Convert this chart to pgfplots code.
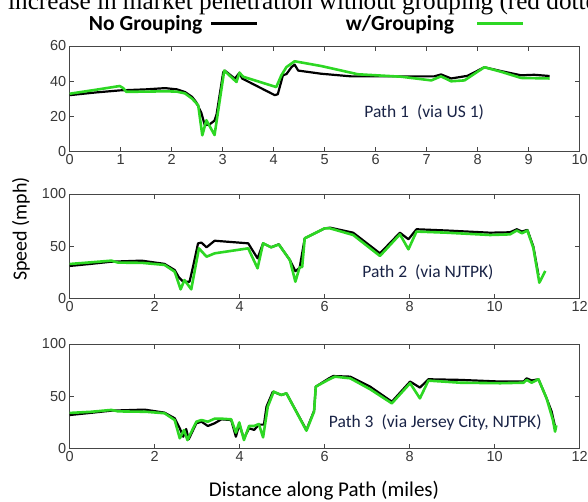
\documentclass[border=0pt]{standalone}
\usepackage{fontspec}
\setmainfont{Carlito}
\newfontfamily\tickfont{Liberation Sans}
\newfontfamily\seriffont{Liberation Serif}
\usepackage{pgfplots}
\pgfplotsset{compat=1.18}
\definecolor{grn}{RGB}{45,215,35}
\definecolor{framec}{RGB}{70,70,70}
\definecolor{tickc}{RGB}{55,55,55}
\definecolor{pathc}{RGB}{25,35,70}
\pgfplotsset{
  panel/.style={
    scale only axis, anchor=south west, width=510pt,
    axis line style={framec, line width=0.9pt},
    tick style={framec, line width=0.8pt},
    tick align=inside, major tick length=4.5pt,
    xtick pos=both, ytick pos=both,
    tick label style={font=\tickfont\fontsize{14.5}{14.5}\selectfont, text=tickc},
    /pgf/number format/assume math mode=true,
    minor tick num=0, scaled ticks=false,
  },
  blk/.style={black, line width=2.2pt, no markers, line join=round},
  gr/.style={grn, line width=2.6pt, no markers, line join=round},
}
\begin{document}
\begin{tikzpicture}[x=1pt,y=1pt]
\path[use as bounding box, clip] (0,0) rectangle (588,501);
\node[anchor=base west, inner sep=0pt, font=\seriffont\fontsize{25.2}{25.2}\selectfont] at (8,491.6) {increase in market penetration without grouping (red dotted lines)};

\begin{axis}[panel, at={(69.7pt,349.7pt)}, height=105.3pt,
  xmin=0, xmax=10, ymin=0, ymax=60,
  xtick={0,...,10}, ytick={0,20,40,60},
  legend columns=2, legend plot pos=right,
  legend style={at={(0.0378,1.215)}, anchor=west, draw=none, fill=none,
    inner sep=0pt, outer sep=0pt, column sep=0pt,
    nodes={inner sep=0pt, font=\bfseries\fontsize{21.5}{21.5}\selectfont}},
  legend image code/.code={\draw[#1, line width=3pt] (0pt,0pt) -- (46pt,0pt);},
]
\addplot[blk] coordinates {(0,32) (0.5,33.5) (0.98,34.7) (1.5,35.3) (1.87,36) (2.1,35.3) (2.26,33.8) (2.4,31) (2.48,28) (2.58,22) (2.65,14.8) (2.75,15.5) (2.84,17.5) (2.88,21) (3.01,45) (3.04,46) (3.24,41.4) (3.33,44.8) (3.38,41.5) (4.02,32) (4.08,32.5) (4.15,40) (4.18,43.3) (4.25,44) (4.35,48) (4.41,49.4) (4.48,46) (4.93,44.2) (5.52,42.7) (7.15,42.7) (7.28,43.8) (7.48,41.5) (7.8,43) (8.13,47.9) (8.46,45.7) (8.85,43.3) (9.11,43.6) (9.41,42.9)};
\addlegendentry{\makebox[121pt][l]{No Grouping}}
\addplot[gr] coordinates {(0,32.8) (0.5,35) (0.98,37.2) (1.05,36) (1.11,33.9) (1.5,34) (1.87,34.2) (2.1,34) (2.26,33) (2.4,30) (2.52,26.2) (2.6,9.1) (2.68,17.7) (2.84,9.3) (3.03,46) (3.27,39.5) (3.33,44.8) (3.4,42.5) (4.05,36.6) (4.15,43.3) (4.25,48) (4.41,51.3) (4.93,48.6) (5.65,43.9) (6.5,42.5) (7.09,40.4) (7.28,42.7) (7.48,39.9) (7.74,40.4) (8.13,47.9) (8.46,45.3) (8.85,41.8) (9.41,41.5)};
\addlegendentry{\makebox[217pt][r]{\makebox[130pt][l]{w/Grouping}}}
\node[anchor=base, inner sep=0pt, font=\fontsize{17.5}{17.5}\selectfont, text=pathc] at (axis cs:6.95,19) {Path 1~ (via US 1)};
\end{axis}

\begin{axis}[panel, at={(69.7pt,202.7pt)}, height=104.3pt,
  xmin=0, xmax=12, ymin=0, ymax=100,
  xtick={0,2,...,12}, ytick={0,50,100}]
\addplot[blk] coordinates {(0,31) (0.5,33) (0.98,35.1) (1.69,36.1) (2.23,33) (2.47,27.1) (2.57,20) (2.67,15.9) (2.82,15.9) (2.9,30) (3.02,52.7) (3.1,53.4) (3.22,48.9) (3.41,55.2) (4.2,52.7) (4.42,38.3) (4.55,52.7) (4.74,48.9) (4.92,51.8) (5.18,36.7) (5.31,26) (5.41,29.2) (5.53,57.5) (6.0,67.1) (6.13,67.7) (6.67,62.9) (7.3,43.1) (7.77,62.9) (7.97,56.6) (8.16,66.2) (8.87,65) (9.89,62.9) (10.36,63.3) (10.52,66.2) (10.64,64) (10.77,65.6) (10.91,49.5) (11.03,22.3)};
\addplot[gr] coordinates {(0,32.9) (0.5,34.5) (0.98,36.1) (1.14,34.2) (1.7,34) (2.23,32) (2.47,25.5) (2.61,8.6) (2.7,17.5) (2.86,8.6) (3.04,47.9) (3.22,39.9) (3.41,43.1) (4.2,47.9) (4.42,28.8) (4.55,52.7) (4.74,48.9) (4.92,51.6) (5.18,36.7) (5.31,15.9) (5.41,29.8) (5.47,30) (5.53,57.5) (6.0,67.1) (6.13,67) (6.67,60.7) (7.3,40.6) (7.77,61.3) (7.97,47) (8.16,64) (8.87,62.9) (9.89,60.7) (10.36,61.3) (10.52,65) (10.64,62.4) (10.77,65) (10.91,48) (11.05,15) (11.19,26.2)};
\node[anchor=base, inner sep=0pt, font=\fontsize{17.5}{17.5}\selectfont, text=pathc] at (axis cs:8.43,20.4) {Path 2~ (via NJTPK)};
\end{axis}

\begin{axis}[panel, at={(69.7pt,52.7pt)}, height=104.3pt,
  xmin=0, xmax=12, ymin=0, ymax=100,
  xtick={0,2,...,12}, ytick={0,50,100}]
\addplot[blk] coordinates {(0,31.9) (0.5,34) (0.98,36.1) (1.76,37.1) (2.23,34.2) (2.47,28.8) (2.59,19.2) (2.67,11.1) (2.74,18.5) (2.8,8.6) (2.98,24) (3.1,25.5) (3.25,21.4) (3.41,24) (3.57,27.8) (3.8,27.1) (3.91,11.1) (3.99,22.7) (4.1,9.6) (4.22,19.2) (4.34,17.6) (4.45,22.7) (4.57,22.7) (4.63,39.9) (4.78,54.3) (4.98,51.1) (5.1,52.7) (5.57,17.5) (5.75,36) (5.79,59.1) (6.1,67.1) (6.2,69.3) (6.6,68.7) (7.07,59.1) (7.58,44.7) (8.01,64) (8.24,58.2) (8.44,66.2) (9.18,65.6) (10.13,64) (10.68,64) (10.75,67.1) (10.87,65) (11.03,66.2) (11.22,48) (11.34,35.2) (11.42,20.8)};
\addplot[gr] coordinates {(0,33.9) (0.5,35) (0.98,36.8) (1.14,35.4) (1.8,35) (2.23,33.6) (2.47,27.1) (2.59,9.6) (2.69,17.5) (2.77,7.9) (2.98,25.5) (3.1,27.1) (3.25,25.5) (3.41,28.4) (3.57,28.4) (3.8,27.8) (3.91,15) (3.99,24.8) (4.1,7.9) (4.22,21.4) (4.34,21.4) (4.45,23.3) (4.55,10.5) (4.66,39.9) (4.8,54.3) (4.98,51.1) (5.1,52.7) (5.57,16.9) (5.75,35.2) (5.79,59.1) (6.1,66) (6.24,68.7) (6.6,67.1) (7.07,56.6) (7.58,43.1) (8.01,62.4) (8.24,47.9) (8.44,64.9) (9.18,62.9) (10.13,62.4) (10.68,62.9) (10.75,65.6) (10.87,62.9) (11.03,66.2) (11.22,48) (11.37,27.1) (11.42,16) (11.45,22)};
\node[anchor=base, inner sep=0pt, font=\fontsize{17.5}{17.5}\selectfont, text=pathc] at (axis cs:8.6,19.5) {Path 3~ (via Jersey City, NJTPK)};
\end{axis}

\node[rotate=90, anchor=base, inner sep=0pt, font=\fontsize{20}{20}\selectfont] at (26.7,272) {Speed (mph)};
\node[anchor=base, inner sep=0pt, font=\fontsize{21}{21}\selectfont] at (324,5) {Distance along Path (miles)};
\end{tikzpicture}
\end{document}
